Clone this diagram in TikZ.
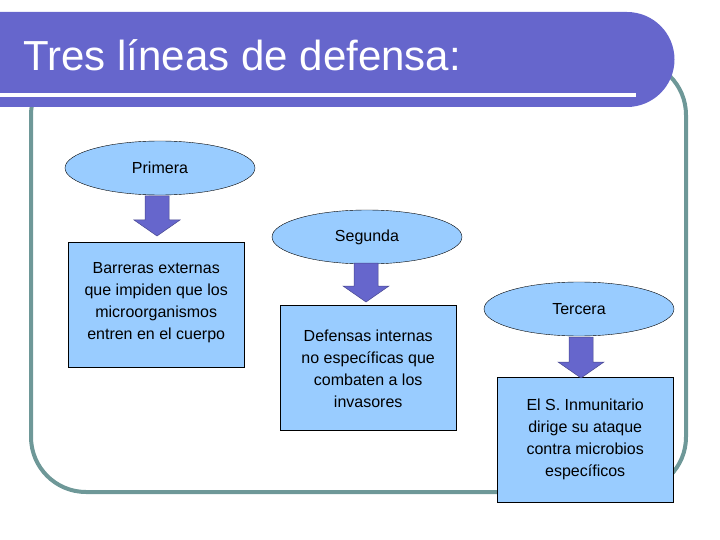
\documentclass[tikz,border=0pt]{standalone}
\usepackage{fontspec}
\setmainfont{Liberation Sans}
\usetikzlibrary{shapes.geometric}
\definecolor{bar}{RGB}{102,102,204}
\definecolor{lb}{RGB}{153,204,255}
\definecolor{teal}{RGB}{110,152,152}
\tikzset{
 ell/.style={ellipse,draw=black,fill=lb,minimum width=190pt,minimum height=54pt,font=\fontsize{16}{18}\selectfont},
 box/.style={draw=black,fill=lb,minimum width=176pt,minimum height=125pt,anchor=north west,inner sep=0pt},
 btext/.style={anchor=north,align=center,font=\fontsize{16}{22}\selectfont,inner sep=0pt},
 barrow/.style={fill=bar,draw=bar!70!black,line width=0.5pt}
}
\newcommand{\blockarrow}[3]{% x, ytop, ybot
 \draw[barrow] (#1-12,#2) -- (#1+12,#2) -- (#1+12,#3-16) -- (#1+23,#3-16) -- (#1,#3) -- (#1-23,#3-16) -- (#1-12,#3-16) -- cycle;}
\begin{document}
\begin{tikzpicture}[x=1pt,y=-1pt]
\useasboundingbox (0,0) rectangle (720,540);
\draw[teal,line width=4pt,rounded corners=55pt] (31,60) rectangle (686,492);
\fill[bar] (0,12) -- (627,12) arc[start angle=-90,end angle=90,radius=47.5] -- (0,107) -- cycle;
\fill[white] (0,93.5) rectangle (636,97);
\node[anchor=west,text=white,font=\fontsize{42}{46}\selectfont] (title) at (20,55) {Tres líneas de defensa:};
\node[ell] (e1) at (160,168) {Primera};
\node[ell] (e2) at (367,237) {Segunda};
\node[ell] (e3) at (579,309) {Tercera};
\node[box] (b1) at (68,242) {};
\node[btext] at ([yshift=-20pt]b1.north) {Barreras externas\\que impiden que los\\microorganismos\\entren en el cuerpo};
\node[box] (b2) at (280,305) {};
\node[btext] at ([yshift=-25pt]b2.north) {Defensas internas\\no específicas que\\combaten a los\\invasores};
\node[box] (b3) at (497,377) {};
\node[btext] at ([yshift=-22pt]b3.north) {El S. Inmunitario\\dirige su ataque\\contra microbios\\específicos};
\blockarrow{157}{196}{236}
\blockarrow{366}{263}{302}
\blockarrow{581}{337}{378}
\end{tikzpicture}
\end{document}
